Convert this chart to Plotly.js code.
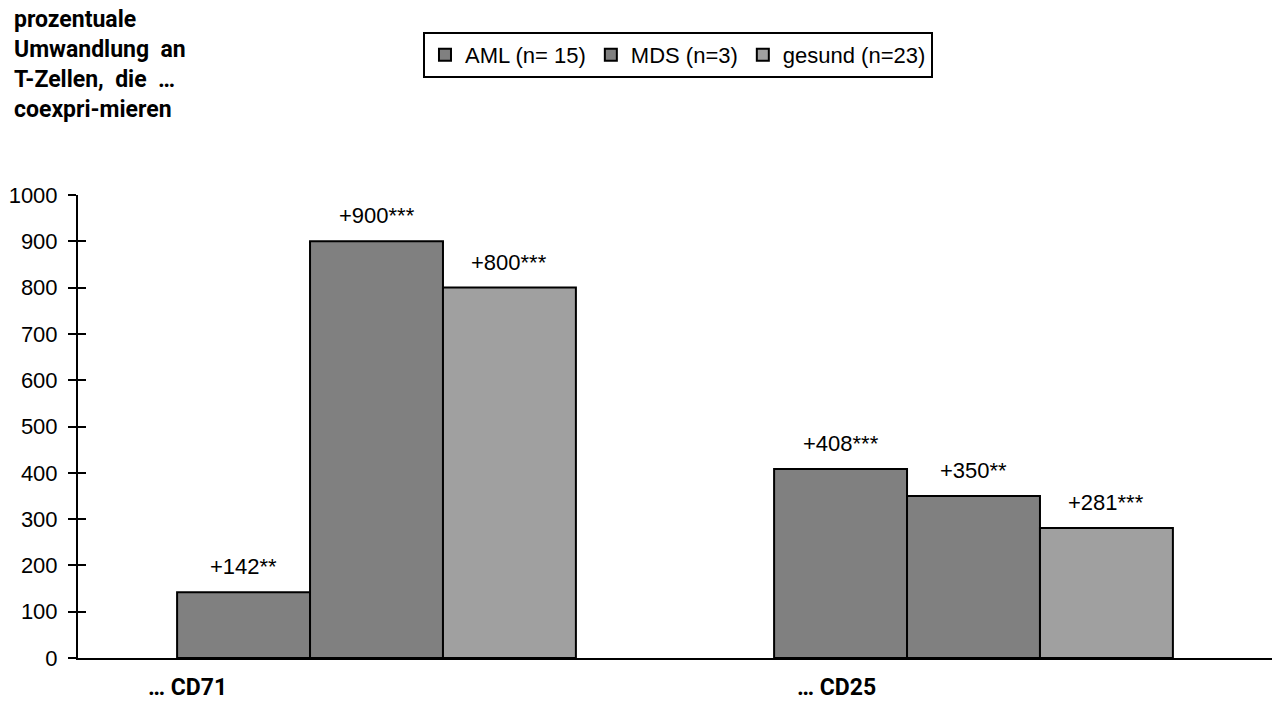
<!DOCTYPE html>
<html><head><meta charset="utf-8">
<script src="https://cdn.plot.ly/plotly-3.0.1.min.js"></script>
<style>html,body{margin:0;padding:0;background:#fff}#chart{width:1274px;height:702px}</style>
</head><body><div id="chart"></div>
<script>
const categories = ["… CD71", "… CD25"];
const seriesNames = ["AML (n= 15)", "MDS (n=3)", "gesund (n=23)"];
const amlValues = [142, 408];
const mdsValues = [900, 350];
const gesundValues = [800, 281];
const amlLabels = ["+142**", "+408***"];
const mdsLabels = ["+900***", "+350**"];
const gesundLabels = ["+800***", "+281***"];
const yTicks = [0,100,200,300,400,500,600,700,800,900,1000];

const colors = ["#808080", "#808080", "#a0a0a0"];
const allValues = [amlValues, mdsValues, gesundValues];
const allLabels = [amlLabels, mdsLabels, gesundLabels];
const xIdx = [0, 1];

const W = 1274, H = 702;
const margin = {l: 78, r: 2, t: 195, b: 44};
const bargap = 0.332;
const plotW = W - margin.l - margin.r;
const plotH = H - margin.t - margin.b;
const barPx = plotW / categories.length * (1 - bargap) / seriesNames.length;

const traces = seriesNames.map((n, i) => ({
  type: 'bar', name: n, x: xIdx, y: allValues[i],
  marker: {color: colors[i], line: {color: '#000', width: 2}},
  hoverinfo: 'none'
}));
traces.push({type: 'scatter', x: [], y: [], yaxis: 'y2', showlegend: false, hoverinfo: 'none'});

const fontMain = 'Liberation Sans, Arial, sans-serif';
const fontNarrow = 'Roboto, Liberation Sans, sans-serif';

const annotations = [];
allLabels.forEach((labs, i) => {
  labs.forEach((t, j) => {
    annotations.push({
      x: xIdx[j], y: allValues[i][j], xref: 'x', yref: 'y',
      xshift: (i - 1) * barPx, yshift: 11, yanchor: 'bottom', showarrow: false,
      text: t,
      font: {family: fontMain, size: 22, color: '#000'}
    });
  });
});
const catOffsets = [-0.317, -0.23];
categories.forEach((c, j) => {
  annotations.push({
    x: xIdx[j] + catOffsets[j], y: 0, xref: 'x', yref: 'y', yanchor: 'top', yshift: -14,
    showarrow: false, text: '<b>' + c + '</b>',
    font: {family: fontNarrow, size: 23, color: '#000'}
  });
});
annotations.push({
  x: (12 - margin.l) / plotW, y: 1 + (margin.t - 4) / plotH, xref: 'paper', yref: 'paper', showarrow: false,
  xanchor: 'left', yanchor: 'top', align: 'left',
  text: '<b>prozentuale<br>Umwandlung  an<br>T-Zellen,  die  …<br>coexpri-mieren</b>',
  font: {family: fontNarrow, size: 23, color: '#000'}
});

const layout = {
  width: W, height: H, margin: margin,
  paper_bgcolor: '#fff', plot_bgcolor: '#fff',
  barmode: 'group', bargap: bargap, bargroupgap: 0,
  showlegend: true,
  legend: {orientation: 'h', x: 0.5025, xanchor: 'center', y: 1 + (margin.t - 32) / plotH, yanchor: 'top',
    bordercolor: '#000', borderwidth: 2, bgcolor: '#fff',
    font: {family: fontMain, size: 22, color: '#000'}, itemwidth: 30, tracegroupgap: 0},
  xaxis: {range: [-0.5, 1.5], showticklabels: false, ticks: '', showgrid: false, zeroline: false,
    showline: true, linecolor: '#000', linewidth: 2, fixedrange: true},
  yaxis: {range: [0, 1000], tickvals: yTicks, ticks: 'outside', ticklen: 8, tickwidth: 2, tickcolor: '#000',
    showgrid: false, zeroline: false, showline: true, linecolor: '#000', linewidth: 2,
    tickfont: {family: fontMain, size: 22, color: '#000'}, ticklabelstandoff: 6},
  yaxis2: {range: [0, 1000], overlaying: 'y', side: 'left', tickvals: yTicks, ticks: 'inside', ticklen: 8,
    tickwidth: 2, tickcolor: '#000', showticklabels: false, showgrid: false, zeroline: false, showline: false},
  annotations: annotations
};

Plotly.newPlot('chart', traces, layout, {displayModeBar: false, staticPlot: true});
</script></body></html>
